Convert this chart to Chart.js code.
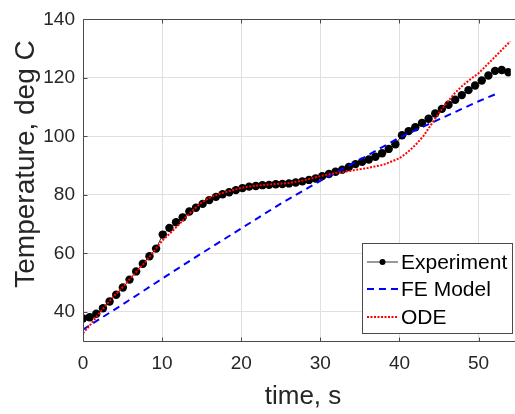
<!DOCTYPE html>
<html>
<head>
<meta charset="utf-8">
<script src="https://cdn.jsdelivr.net/npm/chart.js@4.4.1/dist/chart.umd.min.js"></script>
<style>
  html, body { margin: 0; padding: 0; background: #fff; }
</style>
</head>
<body>
<canvas id="chart" width="515" height="414"></canvas>
<script>
// measured temperatures (thermocouple), sampled every 0.84 s
const expTime = [
  0.00, 0.84, 1.68, 2.52, 3.36, 4.20, 5.04, 5.88, 6.72, 7.56,
  8.40, 9.24, 10.08, 10.92, 11.76, 12.60, 13.44, 14.28, 15.12, 15.96,
  16.80, 17.64, 18.48, 19.32, 20.16, 21.00, 21.84, 22.68, 23.52, 24.36,
  25.20, 26.04, 26.88, 27.72, 28.56, 29.40, 30.24, 31.08, 31.92, 32.76,
  33.60, 34.44, 35.28, 36.12, 36.96, 37.80, 38.64, 39.48, 40.32, 41.16,
  42.00, 42.84, 43.68, 44.52, 45.36, 46.20, 47.04, 47.88, 48.72, 49.56,
  50.40, 51.24, 52.08, 52.92, 53.76
];
const expTemp = [
  37.7, 38.1, 39.3, 41.2, 43.5, 45.8, 48.3, 51.0, 53.8, 56.4,
  59.0, 61.6, 66.4, 68.7, 70.6, 72.3, 74.3, 75.6, 76.9, 78.2,
  79.3, 80.2, 80.9, 81.6, 82.3, 82.8, 83.0, 83.3, 83.4, 83.6,
  83.7, 83.9, 84.2, 84.6, 85.1, 85.6, 86.4, 87.1, 87.9, 88.6,
  89.5, 90.5, 91.3, 92.1, 93.0, 94.2, 95.7, 97.3, 100.4, 101.8,
  103.1, 104.6, 106.0, 107.8, 109.4, 110.8, 112.5, 114.1, 115.8, 117.4,
  119.1, 120.8, 122.4, 122.7, 121.9
];

// finite element prediction
const feTime = [0, 5, 10, 15, 20, 25, 30, 35, 40, 45, 50, 52.3];
const feTemp = [33.9, 42.5, 51.3, 60.0, 68.5, 77.0, 84.8, 92.0, 99.6, 105.8, 112.0, 114.6];

// lumped ODE model
const odeTime = [0, 1, 2, 3, 4, 5, 6, 7, 8, 9, 10, 11, 12, 13, 14, 15, 16, 17, 18, 20,
  22, 24, 26, 28, 30, 32, 34, 36, 38, 40, 41, 42, 43, 44, 45, 46, 47, 48, 49, 50, 52, 54];
const odeTemp = [32.6, 35.8, 39.3, 42.6, 45.6, 48.4, 51.4, 54.4, 57.4, 60.8, 64.3, 66.8, 69.5,
  72.3, 75.0, 77.4, 79.0, 80.1, 80.9, 82.4, 83.2, 83.6, 84.0, 85.0, 86.4, 87.5, 88.3, 89.2,
  90.3, 92.5, 94.5, 97.0, 100.0, 104.0, 108.0, 111.5, 114.8, 117.4, 119.6, 121.6, 127.0, 132.5];

const xTicks = [0, 10, 20, 30, 40, 50];
const yTicks = [40, 60, 80, 100, 120, 140];

const seriesNames = ['Experiment', 'FE Model', 'ODE'];
const xTitle = 'time, s';
const yTitle = 'Temperature, deg C';

const AXIS_COLOR = '#4a4a4a';
const TEXT_COLOR = '#262626';
const FONT = '"Liberation Sans", Arial, Helvetica, sans-serif';

function toPoints(xs, ys) {
  return xs.map((x, i) => ({ x: x, y: ys[i] }));
}

// axis lines (left, bottom, top) with short inward ticks;
// the right edge of the axes runs past the canvas
const axesBox = {
  id: 'axesBox',
  afterDatasetsDraw(chart) {
    const { ctx, chartArea: a, scales } = chart;
    const tl = 4;
    const L = Math.round(a.left) + 0.5, T = Math.round(a.top) + 0.5, B = Math.round(a.bottom) + 0.5;
    ctx.save();
    ctx.strokeStyle = AXIS_COLOR;
    ctx.lineWidth = 1;
    ctx.beginPath();
    ctx.moveTo(chart.width, T); ctx.lineTo(L, T); ctx.lineTo(L, B); ctx.lineTo(chart.width, B);
    xTicks.forEach(v => {
      const px = Math.round(scales.x.getPixelForValue(v)) + 0.5;
      ctx.moveTo(px, B); ctx.lineTo(px, B - tl);
      ctx.moveTo(px, T); ctx.lineTo(px, T + tl);
    });
    yTicks.forEach(v => {
      const py = Math.round(scales.y.getPixelForValue(v)) + 0.5;
      ctx.moveTo(L, py); ctx.lineTo(L + tl, py);
    });
    ctx.stroke();
    ctx.restore();
  }
};

// axis labels; the figure is trimmed on the right, so the x label
// sits a bit right of the visible plot centre
const axisLabels = {
  id: 'axisLabels',
  afterDraw(chart) {
    const { ctx } = chart;
    ctx.save();
    ctx.fillStyle = TEXT_COLOR;
    ctx.textAlign = 'center';
    ctx.textBaseline = 'alphabetic';

    ctx.font = '26px ' + FONT;
    ctx.fillText(xTitle, 303, 404);

    ctx.translate(34, 164);
    ctx.rotate(-Math.PI / 2);
    ctx.font = '28px ' + FONT;
    ctx.fillText(yTitle, 0, 0);
    ctx.restore();
  }
};

// legend box in the lower right corner of the axes
const insideLegend = {
  id: 'insideLegend',
  afterDraw(chart) {
    const { ctx } = chart;
    const x0 = 362, y0 = 243, w = 150, h = 90;
    const rowY = [262, 289, 317];
    ctx.save();
    ctx.fillStyle = '#fff';
    ctx.fillRect(x0, y0, w, h);
    ctx.strokeStyle = AXIS_COLOR;
    ctx.lineWidth = 1;
    ctx.strokeRect(x0 + 0.5, y0 + 0.5, w, h);

    chart.data.datasets.forEach((ds, i) => {
      const y = rowY[i];
      ctx.beginPath();
      ctx.strokeStyle = ds.borderColor;
      ctx.lineWidth = ds.borderWidth;
      ctx.setLineDash(ds.borderDash || []);
      ctx.moveTo(367, y);
      ctx.lineTo(398, y);
      ctx.stroke();
      ctx.setLineDash([]);
      if (ds.pointRadius > 0) {
        ctx.beginPath();
        ctx.fillStyle = ds.pointBackgroundColor;
        ctx.arc(382.5, y, 3, 0, Math.PI * 2);
        ctx.fill();
      }
      ctx.fillStyle = '#000';
      ctx.font = '21px ' + FONT;
      ctx.textBaseline = 'middle';
      ctx.fillText(ds.label, 401, y + 1);
    });
    ctx.restore();
  }
};

new Chart(document.getElementById('chart'), {
  type: 'scatter',
  data: {
    datasets: [
      {
        label: seriesNames[0],
        data: toPoints(expTime, expTemp),
        showLine: true,
        borderColor: '#000',
        borderWidth: 0.8,
        pointRadius: 4.2,
        pointBackgroundColor: '#000',
        pointBorderWidth: 0,
        order: 3
      },
      {
        label: seriesNames[1],
        data: toPoints(feTime, feTemp),
        showLine: true,
        borderColor: '#0000ff',
        borderWidth: 2,
        borderDash: [7, 5],
        pointRadius: 0,
        order: 2
      },
      {
        label: seriesNames[2],
        data: toPoints(odeTime, odeTemp),
        showLine: true,
        borderColor: '#ff0000',
        borderWidth: 2,
        borderDash: [2, 1.5],
        pointRadius: 0,
        order: 1
      }
    ]
  },
  options: {
    responsive: false,
    animation: false,
    layout: { padding: { top: 11, right: 0, left: 0, bottom: 0 } },
    plugins: {
      legend: { display: false },
      tooltip: { enabled: false }
    },
    scales: {
      x: {
        type: 'linear',
        min: 0,
        max: 54.07,
        afterBuildTicks: s => { s.ticks = xTicks.map(v => ({ value: v })); },
        afterFit: s => { s.height = 73; },
        grid: { color: '#dfdfdf', drawTicks: false },
        border: { display: false },
        ticks: {
          padding: 11,
          color: TEXT_COLOR,
          font: { family: FONT, size: 19 }
        }
      },
      y: {
        type: 'linear',
        min: 30,
        max: 140,
        afterBuildTicks: s => { s.ticks = yTicks.map(v => ({ value: v })); },
        afterFit: s => { s.width = 83; },
        grid: { color: '#dfdfdf', drawTicks: false },
        border: { display: false },
        ticks: {
          padding: 8,
          color: TEXT_COLOR,
          font: { family: FONT, size: 19 }
        }
      }
    }
  },
  plugins: [axesBox, axisLabels, insideLegend]
});
</script>
</body>
</html>
